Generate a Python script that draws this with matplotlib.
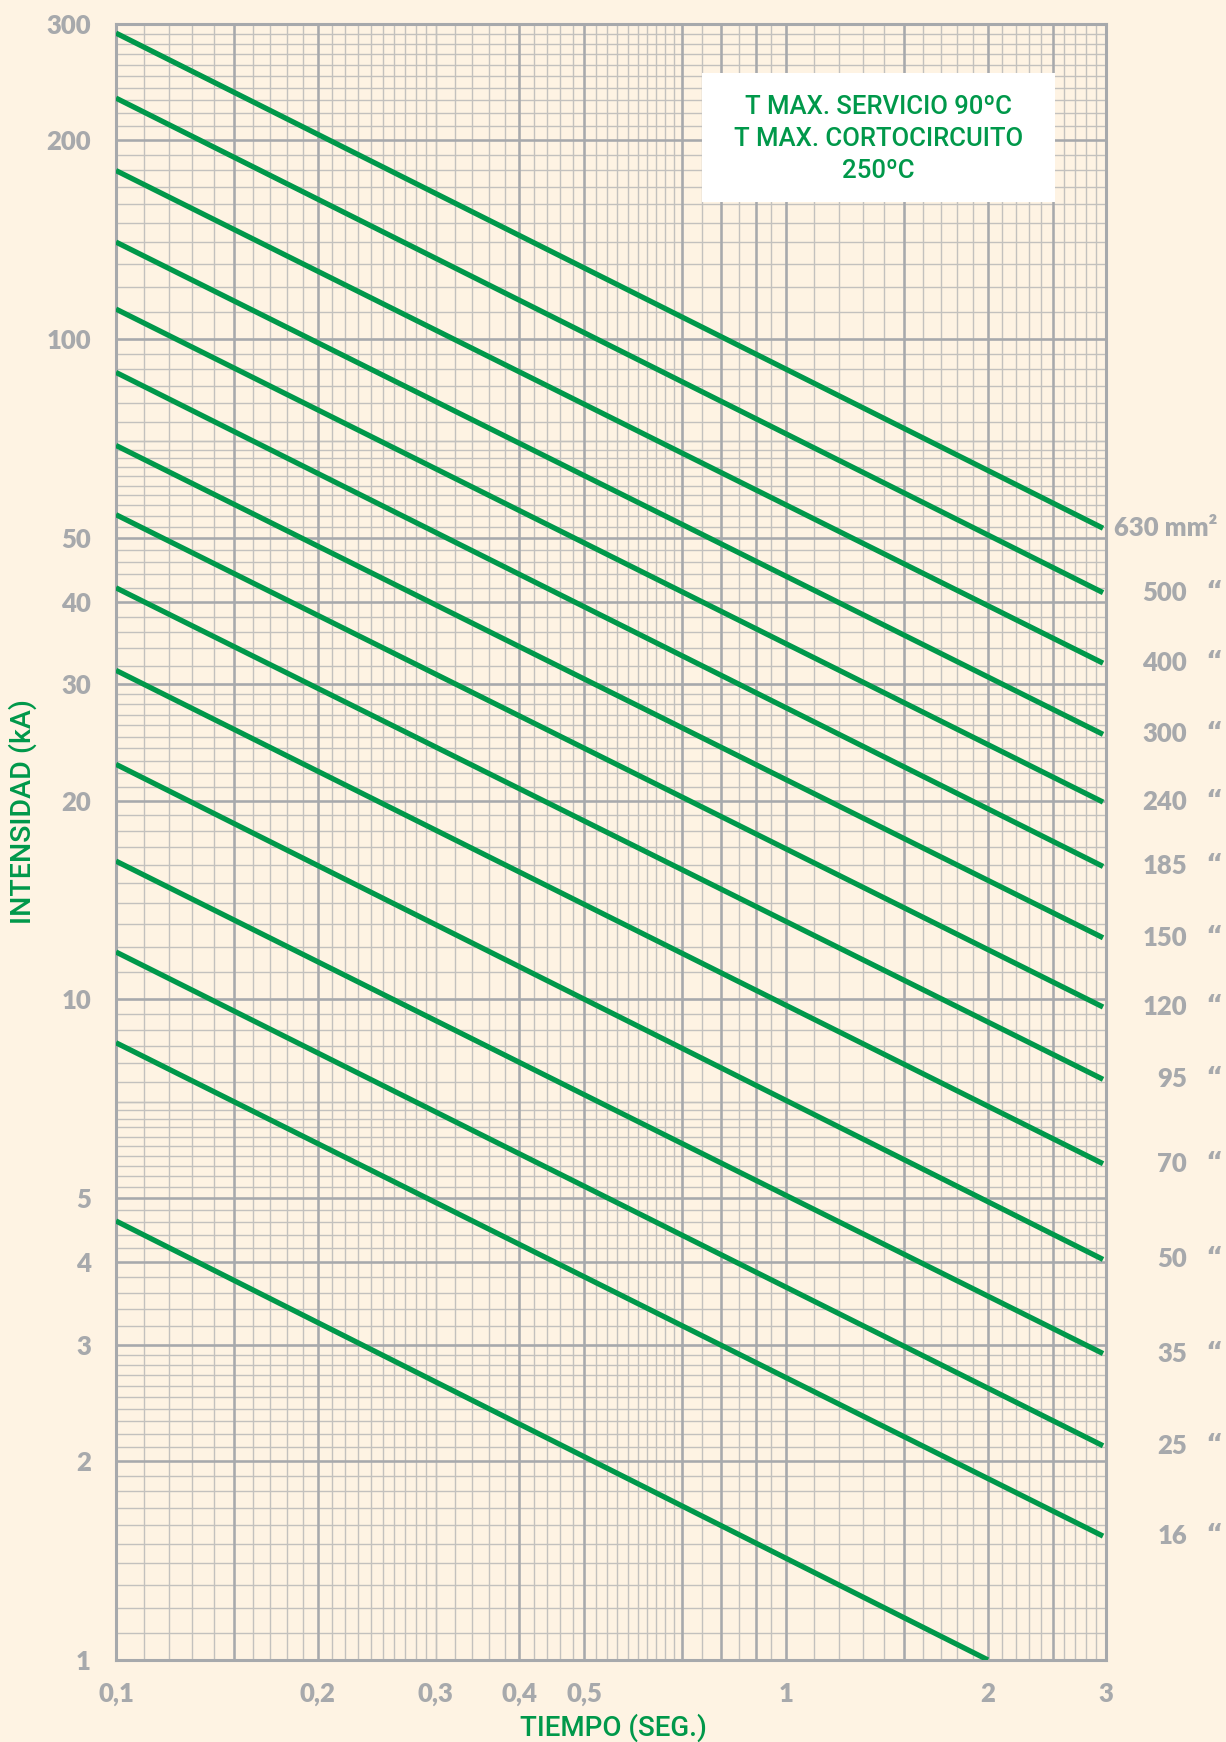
import matplotlib
matplotlib.use("Agg")
import matplotlib.pyplot as plt
import numpy as np
from matplotlib.patches import Rectangle
from matplotlib.ticker import NullFormatter, NullLocator
from matplotlib.transforms import blended_transform_factory

# ---- datos (seccion del cable, intensidad en kA al inicio y al final de cada recta)
secciones = ["630", "500", "400", "300", "240", "185", "150", "120", "95", "70", "50", "35", "25", "16", ""]
t_inicio = [0.1] * 15
i_inicio = [290.5, 231.6, 179.9, 140.2, 111.0, 89.0, 69.0, 54.2, 42.0, 31.5, 22.7, 16.2, 11.8, 8.60, 4.62]
t_fin = [2.97] * 14 + [2.0]
i_fin = [51.7, 41.3, 32.3, 25.2, 19.9, 15.9, 12.4, 9.74, 7.57, 5.64, 4.04, 2.91, 2.11, 1.54, 1.0]

x_ticks = [0.1, 0.2, 0.3, 0.4, 0.5, 1, 2, 3]
x_tick_labels = ["0,1", "0,2", "0,3", "0,4", "0,5", "1", "2", "3"]
y_ticks = [1, 2, 3, 4, 5, 10, 20, 30, 40, 50, 100, 200, 300]
y_tick_labels = ["1", "2", "3", "4", "5", "10", "20", "30", "40", "50", "100", "200", "300"]

cuadro_texto = ["T MAX. SERVICIO 90ºC", "T MAX. CORTOCIRCUITO", "250ºC"]

# ---- colores
FONDO = "#FEF3E3"
VERDE = "#00984A"
GRIS = "#A7A9AC"
GRIS_CLARO = "#C3C1BE"

plt.rcParams['font.family'] = ['Lato', 'DejaVu Sans']

fig = plt.figure(figsize=(12.26, 17.42), dpi=100, facecolor=FONDO)
ax = fig.add_axes([0.0946, 0.0471, 0.8075, 0.9392])
ax.set_facecolor(FONDO)
ax.set_xscale("log")
ax.set_yscale("log")
ax.set_xlim(0.1, 3)
ax.set_ylim(1, 300)


# ---- papel logaritmico (divisiones finas por tramos)
def tramos(lista):
    vals = []
    for a, b, paso in lista:
        vals.extend(np.arange(a, b + paso / 2, paso))
    return vals


x_fino = tramos([(0.1, 0.3, 0.01), (0.3, 0.7, 0.02), (0.7, 1.0, 0.05), (1.0, 3.0, 0.1)])
y_fino = tramos([(1, 3, 0.1), (3, 7, 0.2), (7, 10, 0.5), (10, 30, 1), (30, 70, 2), (70, 100, 5), (100, 300, 10)])
x_grueso = [0.15, 0.2, 0.4, 0.5, 0.7, 0.8, 0.9, 1, 1.5, 2, 2.5]
y_grueso = [2, 3, 4, 5, 10, 20, 30, 40, 50, 100, 200]

for x in x_fino:
    ax.axvline(x, color=GRIS_CLARO, lw=1.0, zorder=1)
for y in y_fino:
    ax.axhline(y, color=GRIS_CLARO, lw=1.0, zorder=1)
for x in x_grueso:
    ax.axvline(x, color=GRIS, lw=1.8, zorder=2)
for y in y_grueso:
    ax.axhline(y, color=GRIS, lw=1.8, zorder=2)

for sp in ax.spines.values():
    sp.set_color(GRIS)
    sp.set_linewidth(2.2)
    sp.set_zorder(3)

# ---- rectas de intensidad admisible
for k in range(len(secciones)):
    ax.plot([t_inicio[k], t_fin[k]], [i_inicio[k], i_fin[k]], color=VERDE, lw=3.8,
            solid_capstyle="butt", zorder=5)

# ---- ejes
ax.xaxis.set_minor_locator(NullLocator())
ax.yaxis.set_minor_locator(NullLocator())
ax.xaxis.set_minor_formatter(NullFormatter())
ax.yaxis.set_minor_formatter(NullFormatter())
ax.set_xticks(x_ticks)
ax.set_xticklabels(x_tick_labels)
ax.set_yticks(y_ticks)
ax.set_yticklabels(y_tick_labels)
ax.tick_params(axis="x", length=0, pad=16, labelsize=18.5, labelcolor=GRIS)
ax.tick_params(axis="y", length=0, pad=18, labelsize=18.5, labelcolor=GRIS)
for lab in ax.get_xticklabels() + ax.get_yticklabels():
    lab.set_fontweight("heavy")

# ---- etiquetas de seccion a la derecha
trans = blended_transform_factory(ax.transAxes, ax.transData)
for k, s in enumerate(secciones):
    if s == "":
        continue
    if k == 0:
        ax.text(1.0081, i_fin[k], s + " mm²", ha="left", va="center", transform=trans,
                fontsize=18.5, fontweight="heavy", color=GRIS, clip_on=False)
    else:
        ax.text(1.0818, i_fin[k], s, ha="right", va="center", transform=trans,
                fontsize=18.5, fontweight="heavy", color=GRIS, clip_on=False)
        ax.text(1.1095, i_fin[k], "\u201c", ha="center", va="center", transform=trans,
                fontsize=19, fontweight="bold", color=GRIS, clip_on=False,
                family=["DejaVu Sans"])

# ---- cuadro de temperaturas
ax.add_patch(Rectangle((0.5919, 0.8912), 0.3566, 0.0789, transform=ax.transAxes,
                       facecolor="white", edgecolor="none", zorder=4))
for txt, yy in zip(cuadro_texto, [0.9494, 0.9297, 0.9103]):
    ax.text(0.7702, yy, txt, ha="center", va="center", transform=ax.transAxes,
            fontsize=18.5, fontweight="medium", color=VERDE, family=["Roboto", "DejaVu Sans"], zorder=6)

# ---- titulos de ejes
fig.text(613 / 1226, 1 - 1728 / 1742, "TIEMPO (SEG.)", ha="center", va="center",
         fontsize=20, fontweight="medium", color=VERDE, family=["Roboto", "DejaVu Sans"])
fig.text(23 / 1226, 1 - 812 / 1742, "INTENSIDAD (kA)", ha="center", va="center", rotation=90,
         fontsize=20.5, fontweight="medium", color=VERDE, family=["Roboto", "DejaVu Sans"])

fig.savefig("out.png", dpi=100, facecolor=FONDO)
